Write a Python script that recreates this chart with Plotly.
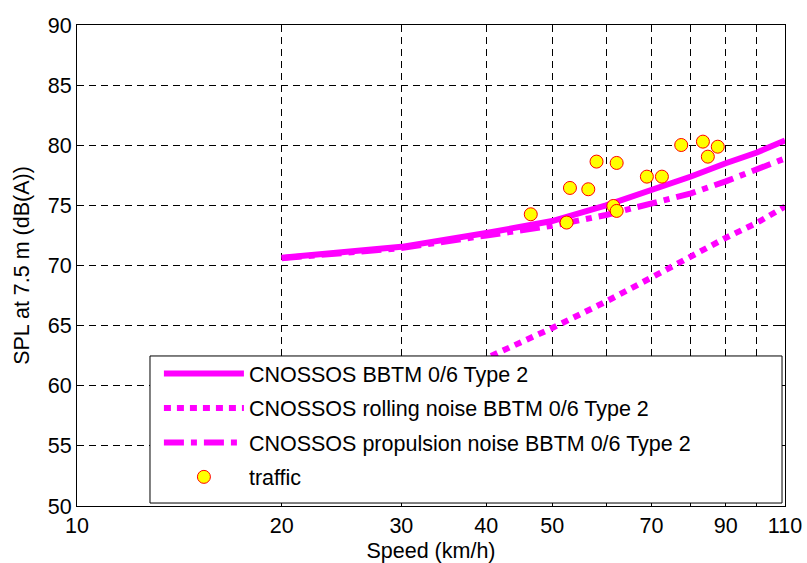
import plotly.graph_objects as go

speed = [20, 30, 40, 50, 60, 70, 80, 90, 100, 110]
total = [70.65, 71.55, 72.7, 73.7, 75.0, 76.25, 77.4, 78.5, 79.4, 80.4]
rolling = [53.8, 58.8, 62.3, 64.8, 67.0, 69.0, 70.8, 72.3, 73.55, 74.9]
propulsion = [70.6, 71.45, 72.5, 73.3, 74.2, 75.1, 76.0, 77.0, 78.0, 78.9]

traffic_speed = [46.5, 52.5, 53.1, 56.5, 58.1, 62.2, 61.5, 62.2, 68.9, 72.5, 77.4, 83.3, 84.7, 87.6]
traffic_spl = [74.26, 73.57, 76.45, 76.34, 78.64, 78.53, 74.95, 74.54, 77.39, 77.39, 80.02, 80.30, 79.05, 79.88]

x_tickvals = [10, 20, 30, 40, 50, 60, 70, 80, 90, 100, 110]
x_ticktext = ["10", "20", "30", "40", "50", "", "70", "", "90", "", "110"]
y_tickvals = [50, 55, 60, 65, 70, 75, 80, 85, 90]

MAG = "#ff00ff"
FONT = "Liberation Sans, Arial, sans-serif"
FS = 21.5

fig = go.Figure()
fig.add_trace(go.Scatter(x=speed, y=total, mode="lines", name="CNOSSOS BBTM 0/6 Type 2",
                         line=dict(color=MAG, width=6), legendgroup="a"))
fig.add_trace(go.Scatter(x=speed, y=rolling, mode="lines", name="CNOSSOS rolling noise BBTM 0/6 Type 2",
                         line=dict(color=MAG, width=6, dash="7px,6px"), legendgroup="b"))
fig.add_trace(go.Scatter(x=speed, y=propulsion, mode="lines", name="CNOSSOS propulsion noise BBTM 0/6 Type 2",
                         line=dict(color=MAG, width=6, dash="20px,7px,6px,7px"), legendgroup="c"))
fig.add_trace(go.Scatter(x=traffic_speed, y=traffic_spl, mode="markers", name="traffic",
                         marker=dict(color="#ffff00", size=13, line=dict(color="#ff0000", width=1)),
                         legendgroup="d"))

axis_common = dict(showline=True, linecolor="black", linewidth=1, mirror="ticks", ticks="inside",
                   ticklen=5, tickcolor="black", showgrid=True, gridcolor="black", gridwidth=1,
                   griddash="7px,5px", zeroline=False, automargin=False,
                   tickfont=dict(family=FONT, size=FS, color="black"))

fig.update_xaxes(type="log", range=[1, 2.041393], tickvals=x_tickvals, ticktext=x_ticktext,
                 title=dict(text="Speed (km/h)", font=dict(family=FONT, size=FS, color="black"), standoff=6),
                 **axis_common)
fig.update_yaxes(range=[50, 90], tickvals=y_tickvals,
                 title=dict(text="SPL at 7.5 m (dB(A))", font=dict(family=FONT, size=FS, color="black"), standoff=12),
                 **axis_common)

fig.add_shape(type="rect", xref="paper", yref="paper", x0=0.1031, x1=0.9958, y0=0.0062, y1=0.3119,
              fillcolor="white", line=dict(color="black", width=1), layer="above")

fig.update_layout(
    width=807, height=563,
    margin=dict(l=77, r=22, t=25, b=57),
    paper_bgcolor="white", plot_bgcolor="white",
    font=dict(family=FONT, size=FS, color="black"),
    legend=dict(x=0.1157, y=0.318, xanchor="left", yanchor="top", bgcolor="rgba(0,0,0,0)",
                borderwidth=0, font=dict(family=FONT, size=FS, color="black"),
                itemwidth=80, tracegroupgap=3.5),
    showlegend=True,
)

fig.write_html("out.html", config={"displayModeBar": False},
               post_script="document.body.style.margin='0';document.body.style.overflow='hidden';")
